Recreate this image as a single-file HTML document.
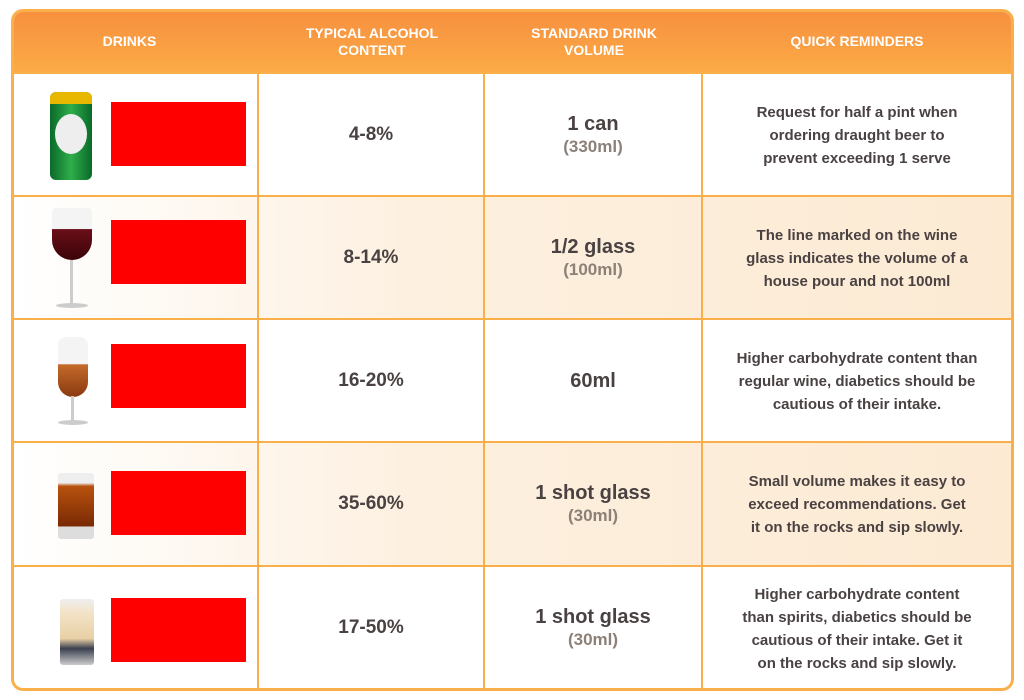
<!DOCTYPE html>
<html><head><meta charset="utf-8"><style>
*{margin:0;padding:0;box-sizing:border-box}
body{width:1024px;height:700px;background:#fff;position:relative;overflow:hidden;font-family:"Liberation Sans",sans-serif;color:#4a4242;font-weight:bold}
.tbl{position:absolute;left:11px;top:9px;width:1003px;height:682px;border:3px solid #f9b04a;border-radius:12px;overflow:hidden;background:#fff}
.in{position:absolute;left:-2px;top:-2px;width:1001px;height:680px}
.hdr{position:absolute;left:0;top:0;width:100%;height:63px;background:linear-gradient(#f78f3f,#fbab46)}
.h{position:absolute;top:0;height:63px;display:flex;align-items:center;justify-content:center;text-align:center;color:#fff;font-size:14px;line-height:17px}
.row{position:absolute;left:0;width:100%;border-top:2px solid #f9b04a}
.alt{background:linear-gradient(90deg,#fff 0%,#fdf0e0 40%,#fcead3 100%)}
.vl{position:absolute;top:63px;bottom:0;width:2px;background:#f9b04a}
.c{position:absolute;display:flex;flex-direction:column;align-items:center;justify-content:center;text-align:center}
.pct{font-size:19px}
.vol{font-size:20px;line-height:24px}
.sub{font-size:17px;color:#8c8078;line-height:22px}
.rem{font-size:15px;line-height:23px}
.red{position:absolute;left:99px;width:135px;height:64px;background:#f00}
</style></head><body>
<div class="tbl"><div class="in">
<div class="hdr"></div>
<div class="h" style="left:0;width:235px">DRINKS</div>
<div class="h" style="left:247px;width:226px">TYPICAL ALCOHOL<br>CONTENT</div>
<div class="h" style="left:473px;width:218px">STANDARD DRINK<br>VOLUME</div>
<div class="h" style="left:691px;width:308px">QUICK REMINDERS</div>

<div class="row" style="top:62px;height:124px"></div>
<div class="row alt" style="top:185px;height:124px"></div>
<div class="row" style="top:308px;height:124px"></div>
<div class="row alt" style="top:431px;height:124px"></div>
<div class="row" style="top:555px;height:130px"></div>

<div class="vl" style="left:245px"></div>
<div class="vl" style="left:471px"></div>
<div class="vl" style="left:689px"></div>

<div style="position:absolute;left:38px;top:82px;width:42px;height:88px;border-radius:6px;background:linear-gradient(90deg,#0a6a2a,#2fae4a,#0a6a2a)"><div style="height:12px;background:#e8b800;border-radius:6px 6px 0 0"></div><div style="margin:10px 5px;height:40px;background:#eee;border-radius:50%"></div></div>
<div style="position:absolute;left:40px;top:198px;width:40px;height:52px;border-radius:4px 4px 20px 20px;background:linear-gradient(#f4f4f4 0%,#f4f4f4 40%,#6a0f18 41%,#3a0308 100%)"></div>
<div style="position:absolute;left:58px;top:250px;width:3px;height:44px;background:#ccc"></div>
<div style="position:absolute;left:44px;top:293px;width:32px;height:5px;border-radius:50%;background:#ccc"></div>
<div style="position:absolute;left:46px;top:327px;width:30px;height:60px;border-radius:8px 8px 15px 15px;background:linear-gradient(#f4f4f4 0%,#f4f4f4 45%,#c46a2a 46%,#8a3a10 100%)"></div>
<div style="position:absolute;left:59px;top:386px;width:3px;height:26px;background:#ccc"></div>
<div style="position:absolute;left:46px;top:410px;width:30px;height:5px;border-radius:50%;background:#ccc"></div>
<div style="position:absolute;left:46px;top:463px;width:36px;height:66px;border-radius:3px;background:linear-gradient(#eee 0%,#eee 15%,#b8520e 20%,#7a2a05 80%,#ddd 82%)"></div>
<div style="position:absolute;left:48px;top:589px;width:34px;height:66px;border-radius:3px;background:linear-gradient(#eee 0%,#f3e3c8 20%,#e8d0a6 60%,#3a4050 75%,#ccc 100%)"></div>

<div class="red" style="top:92px"></div>
<div class="red" style="top:210px"></div>
<div class="red" style="top:334px"></div>
<div class="red" style="top:461px"></div>
<div class="red" style="top:588px"></div>

<div class="c pct" style="left:247px;width:224px;top:64px;height:122px">4-8%</div>
<div class="c pct" style="left:247px;width:224px;top:187px;height:122px">8-14%</div>
<div class="c pct" style="left:247px;width:224px;top:310px;height:122px">16-20%</div>
<div class="c pct" style="left:247px;width:224px;top:433px;height:122px">35-60%</div>
<div class="c pct" style="left:247px;width:224px;top:557px;height:122px">17-50%</div>

<div class="c" style="left:473px;width:216px;top:64px;height:122px"><div class="vol">1 can</div><div class="sub">(330ml)</div></div>
<div class="c" style="left:473px;width:216px;top:187px;height:122px"><div class="vol">1/2 glass</div><div class="sub">(100ml)</div></div>
<div class="c" style="left:473px;width:216px;top:310px;height:122px"><div class="vol">60ml</div></div>
<div class="c" style="left:473px;width:216px;top:433px;height:122px"><div class="vol">1 shot glass</div><div class="sub">(30ml)</div></div>
<div class="c" style="left:473px;width:216px;top:557px;height:122px"><div class="vol">1 shot glass</div><div class="sub">(30ml)</div></div>

<div class="c rem" style="left:691px;width:308px;top:64px;height:122px">Request for half a pint when<br>ordering draught beer to<br>prevent exceeding 1 serve</div>
<div class="c rem" style="left:691px;width:308px;top:187px;height:122px">The line marked on the wine<br>glass indicates the volume of a<br>house pour and not 100ml</div>
<div class="c rem" style="left:691px;width:308px;top:310px;height:122px">Higher carbohydrate content than<br>regular wine, diabetics should be<br>cautious of their intake.</div>
<div class="c rem" style="left:691px;width:308px;top:433px;height:122px">Small volume makes it easy to<br>exceed recommendations. Get<br>it on the rocks and sip slowly.</div>
<div class="c rem" style="left:691px;width:308px;top:557px;height:124px">Higher carbohydrate content<br>than spirits, diabetics should be<br>cautious of their intake. Get it<br>on the rocks and sip slowly.</div>
</div></div>
</body></html>
